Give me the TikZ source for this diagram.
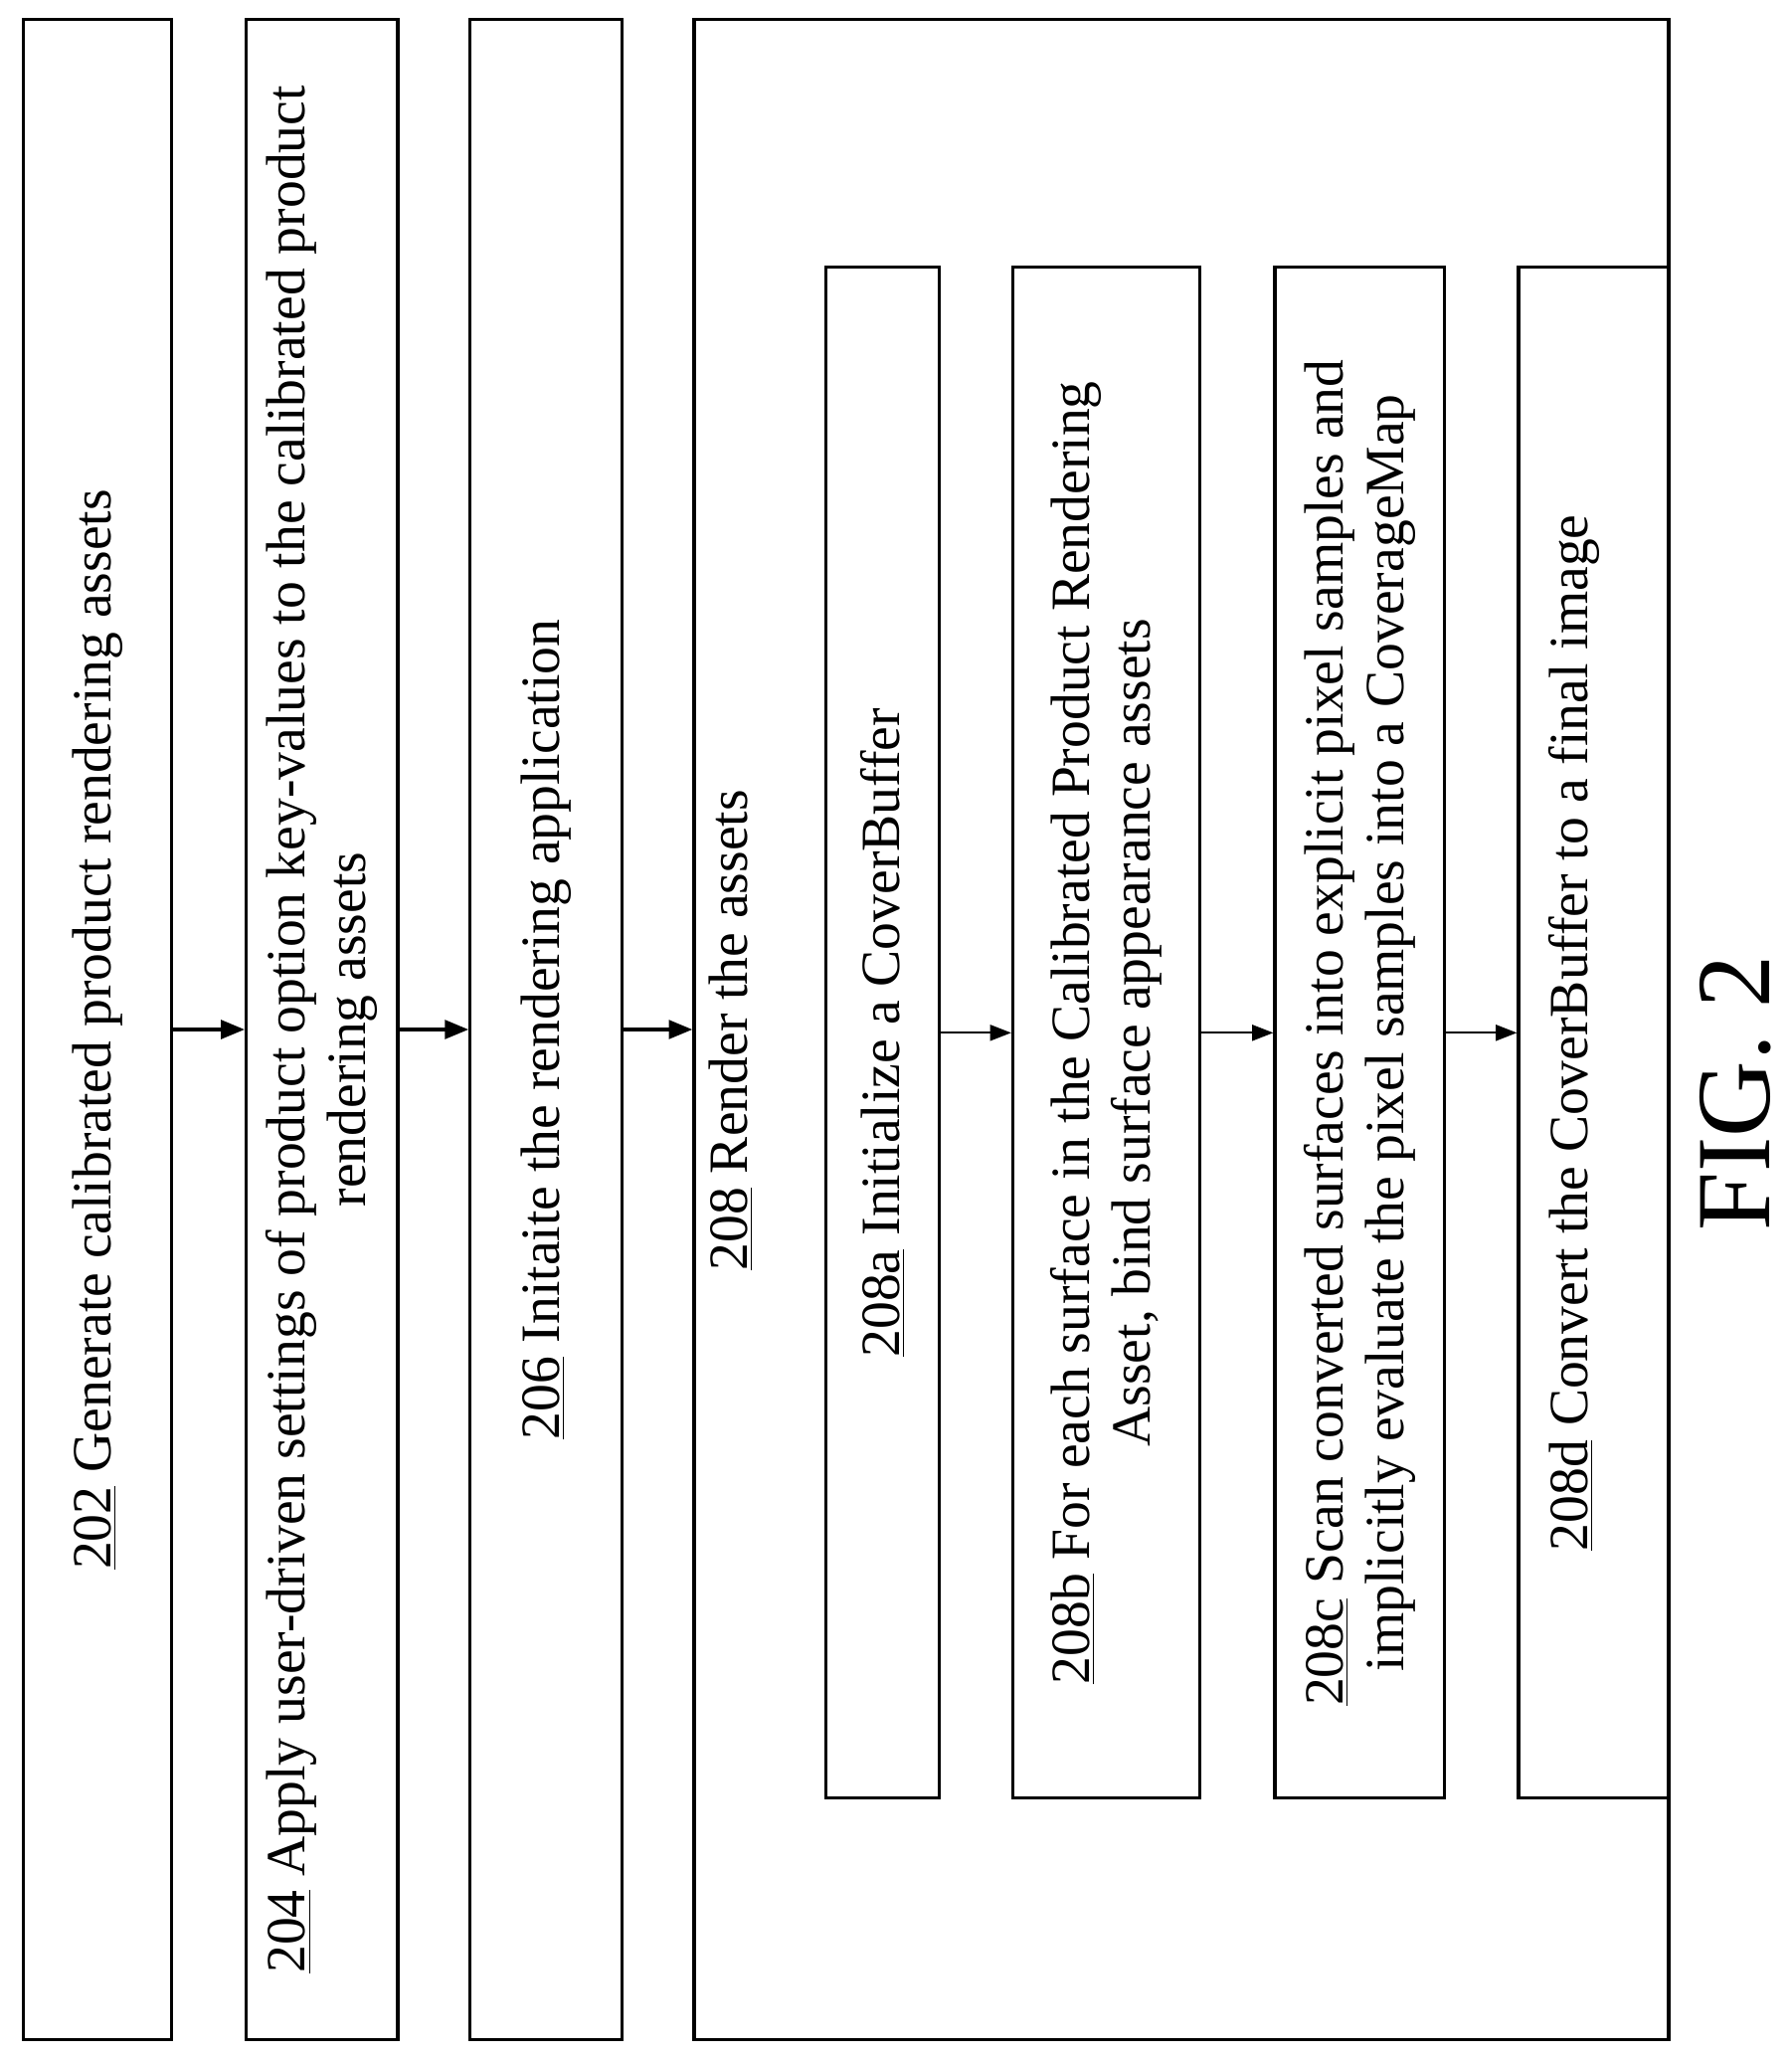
\documentclass[tikz,border=0pt]{standalone}
\usepackage{fontspec}
\setmainfont{Liberation Serif}
\usetikzlibrary{arrows.meta}

\tikzset{
    stepbox/.style={draw, line width=1.2pt, inner sep=0pt},
    steplabel/.style={rotate=90, align=center, font=\fontsize{21}{23}\selectfont},
    flow/.style={-{Triangle[length=9pt,width=7pt]}, line width=1.4pt},
    subflow/.style={-{Triangle[length=8pt,width=6pt]}, line width=0.8pt},
}

\begin{document}
\begin{tikzpicture}[x=0.5pt, y=-0.5pt]
        \useasboundingbox (0,0) rectangle (1360,1563);
        % outer steps
        \node[stepbox, minimum width=56pt, minimum height=766.5pt] (s202) at (74,781.5) {};
        \node[stepbox, minimum width=57.5pt, minimum height=766.5pt] (s204) at (244.5,781.5) {};
        \node[stepbox, minimum width=57.5pt, minimum height=766.5pt] (s206) at (414.5,781.5) {};
        \node[stepbox, minimum width=370pt, minimum height=766.5pt] (s208) at (897,781.5) {};
        % inner steps of 208
        \node[stepbox, minimum width=43pt, minimum height=581pt] (s208a) at (670,784) {};
        \node[stepbox, minimum width=71pt, minimum height=581pt] (s208b) at (840,784) {};
        \node[stepbox, minimum width=64.5pt, minimum height=581pt] (s208c) at (1032.5,784) {};
        \node[stepbox, minimum width=57pt, minimum height=581pt] (s208d) at (1210,784) {};

        \node[steplabel] (t202) at (s202) {\underline{202} Generate calibrated product rendering assets};
        \node[steplabel] (t204) at (s204) {\underline{204} Apply user-driven settings of product option key-values to the calibrated product\\ rendering assets};
        \node[steplabel] (t206) at (s206) {\underline{206} Initaite the rendering application};
        \node[steplabel] (t208) at (555,782) {\underline{208} Render the assets};
        \node[steplabel] (t208a) at (s208a) {\underline{208a} Initialize a CoverBuffer};
        \node[steplabel] (t208b) at (s208b) {\underline{208b} For each surface in the Calibrated Product Rendering\\ Asset, bind surface appearance assets};
        \node[steplabel] (t208c) at (s208c) {\underline{208c} Scan converted surfaces into explicit pixel samples and\\ implicitly evaluate the pixel samples into a CoverageMap};
        \node[steplabel] (t208d) at (1195,784) {\underline{208d} Convert the CoverBuffer to a final image};

        \node[rotate=90, font=\fontsize{40}{40}\selectfont] (fig) at (1318,830) {FIG. 2};

        \draw[flow] (s202.east) -- (s204.west);
        \draw[flow] (s204.east) -- (s206.west);
        \draw[flow] (s206.east) -- (s208.west);
        \draw[subflow] (s208a.east) -- (s208b.west);
        \draw[subflow] (s208b.east) -- (s208c.west);
        \draw[subflow] (s208c.east) -- (s208d.west);
\end{tikzpicture}
\end{document}
